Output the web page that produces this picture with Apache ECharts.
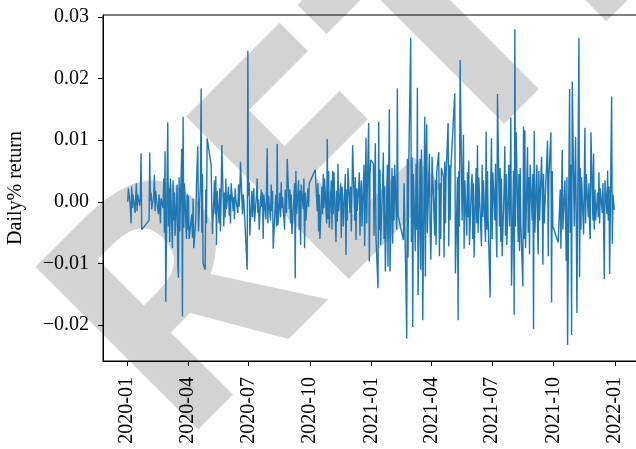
<!DOCTYPE html>
<html>
<head>
<meta charset="utf-8">
<script src="https://cdn.jsdelivr.net/npm/echarts@6/dist/echarts.min.js"></script>
<style>
  html, body { margin: 0; padding: 0; background: #fff; }
  #chart { width: 636px; height: 449px; }
</style>
</head>
<body>
<div id="chart"></div>
<script>
// daily returns, one list per month (trading days in order)
var returns2020 = [
  [0.0000, 0.0022, -0.0008, -0.0035, 0.0025, -0.0010, 0.0012, -0.0018, 0.0008, 0.0030, -0.0015, 0.0012, -0.0006, 0.0009, 0.0079, -0.0045],
  [-0.0030, 0.0080, 0.0002, 0.0015, -0.0012, 0.0010, 0.0044, -0.0015, 0.0018, 0.0005, -0.0020, 0.0012, -0.0008, -0.0035, 0.0006, -0.0010, 0.0038, -0.0050, 0.0082, -0.0162],
  [0.0129, -0.0040, 0.0022, -0.0065, 0.0038, -0.0075, 0.0035, -0.0030, 0.0015, -0.0055, 0.0028, -0.0100, -0.0123, 0.0040, -0.0048, 0.0086, -0.0186, 0.0138, -0.0042, 0.0030, -0.0060, 0.0012],
  [-0.0045, 0.0010, -0.0060, -0.0020, -0.0058, 0.0005, -0.0075, -0.0030, 0.0025, 0.0062, 0.0090, -0.0048, 0.0032, 0.0184, -0.0050, 0.0045, -0.0100, -0.0110, 0.0020, -0.0035, 0.0103],
  [0.0060, -0.0010, -0.0052, 0.0035, -0.0020, 0.0042, -0.0070, 0.0018, -0.0035, 0.0022, -0.0048, 0.0010, 0.0092, -0.0040, 0.0015, -0.0025, 0.0038, -0.0012],
  [0.0025, -0.0022, 0.0012, -0.0035, 0.0030, -0.0015, 0.0008, -0.0028, 0.0022, 0.0005, -0.0018, 0.0028, -0.0008, 0.0014, 0.0065, -0.0020, 0.0012, 0.0002, -0.0110, 0.0245],
  [0.0010, 0.0032, -0.0055, 0.0018, -0.0025, 0.0005, 0.0022, -0.0032, 0.0012, 0.0038, -0.0018, 0.0004, -0.0045, 0.0020, -0.0008, 0.0015, -0.0060, 0.0012, -0.0028, 0.0025, 0.0087, -0.0035, 0.0010],
  [-0.0030, 0.0028, -0.0015, 0.0018, -0.0076, -0.0005, 0.0012, -0.0040, 0.0094, -0.0038, 0.0015, -0.0025, 0.0032, -0.0010, 0.0008, -0.0045, 0.0020, -0.0005, -0.0018, 0.0070, -0.0012],
  [0.0020, -0.0035, 0.0012, -0.0052, 0.0008, 0.0030, -0.0124, 0.0050, -0.0020, 0.0035, -0.0045, 0.0018, -0.0070, 0.0028, -0.0012, 0.0038, -0.0075, 0.0015, -0.0030, 0.0022, -0.0008, 0.0030],
  [0.0052, -0.0015, 0.0030, -0.0048, 0.0012, -0.0060, 0.0025, -0.0020, 0.0045, -0.0010, 0.0038, -0.0035, 0.0102, -0.0028, 0.0050, -0.0042],
  [0.0035, -0.0045, 0.0050, -0.0020, 0.0048, -0.0065, 0.0018, -0.0032, 0.0062, -0.0015, 0.0030, -0.0058, 0.0025, 0.0008, -0.0040, 0.0045, -0.0086, 0.0020, -0.0030, 0.0055, -0.0018],
  [0.0025, -0.0048, 0.0015, 0.0092, -0.0030, 0.0040, -0.0062, 0.0022, -0.0015, 0.0048, -0.0055, 0.0012, 0.0035, -0.0040, 0.0060, -0.0072, 0.0020, 0.0104, -0.0035, 0.0128, -0.0097, 0.0045, 0.0068]
];
var returns2021 = [
  [0.0062, -0.0055, 0.0040, 0.0095, -0.0060, -0.0140, 0.0130, -0.0045, 0.0052, -0.0070, 0.0035, 0.0080, -0.0060, 0.0025, -0.0113, 0.0060, -0.0105, 0.0045, 0.0150, -0.0113],
  [0.0055, -0.0068, 0.0042, -0.0030, 0.0060, -0.0045, 0.0184, -0.0022, -0.0062, 0.0030, -0.0143, -0.0222, 0.0070, -0.0090, 0.0055],
  [0.0266, -0.0065, 0.0072, -0.0203, 0.0045, -0.0080, 0.0062, -0.0045, 0.0185, -0.0151, 0.0070, -0.0110, 0.0085, 0.0040, -0.0192, 0.0138, -0.0121, 0.0060, 0.0126, -0.0050, 0.0078, -0.0035, -0.0094],
  [-0.0040, 0.0073, -0.0055, 0.0035, -0.0070, 0.0048, 0.0081, -0.0088, 0.0030, -0.0060, 0.0055, 0.0040, -0.0090, 0.0065, -0.0035, 0.0045, 0.0128, -0.0072, 0.0060, -0.0030, 0.0050],
  [0.0176, -0.0116, 0.0040, -0.0192, 0.0050, -0.0040, 0.0230, -0.0030, 0.0040, 0.0109, -0.0076, 0.0035, -0.0055, 0.0048, -0.0025, 0.0067, -0.0070, 0.0030],
  [0.0045, -0.0060, 0.0030, -0.0090, 0.0055, -0.0035, 0.0092, -0.0050, 0.0040, -0.0072, 0.0060, -0.0025, 0.0035, -0.0065, 0.0114, -0.0045, 0.0050, -0.0030, -0.0155, 0.0040, 0.0103],
  [-0.0060, 0.0048, -0.0030, 0.0062, -0.0045, -0.0090, 0.0175, -0.0040, 0.0055, -0.0065, 0.0038, -0.0088, 0.0025, 0.0090, -0.0055, 0.0045, -0.0070, 0.0060, -0.0040, 0.0030, 0.0137, -0.0136],
  [0.0050, -0.0183, 0.0280, -0.0040, 0.0113, -0.0065, 0.0045, -0.0080, 0.0055, -0.0035, -0.0137, 0.0122, -0.0060, 0.0116, -0.0075, 0.0089, -0.0050, 0.0040, -0.0085, 0.0060, -0.0030, 0.0045],
  [-0.0206, 0.0115, -0.0050, 0.0060, -0.0040, -0.0085, 0.0050, -0.0030, 0.0073, 0.0020, -0.0102, 0.0045, -0.0035, 0.0099, -0.0088, 0.0040, 0.0113, -0.0163, 0.0050, -0.0040],
  [-0.0066, 0.0020, -0.0076, 0.0010, 0.0084, -0.0045, 0.0035, -0.0030, -0.0096, 0.0040, -0.0232, 0.0183, -0.0050, 0.0060, -0.0216, 0.0195],
  [-0.0040, 0.0035, 0.0105, -0.0030, -0.0180, 0.0266, -0.0122, 0.0055, -0.0045, 0.0040, -0.0053, 0.0030, 0.0120, -0.0035, 0.0045, -0.0025, 0.0030, -0.0040, -0.0060, 0.0113, -0.0030, 0.0078],
  [-0.0045, 0.0020, -0.0030, 0.0015, -0.0025, 0.0048, -0.0035, 0.0022, -0.0018, 0.0030, -0.0042, -0.0125, 0.0035, -0.0020, 0.0051, -0.0030, 0.0025, -0.0117, 0.0171, -0.0068, 0.0012, 0.0010, -0.0013]
];
// exchange holidays (weekdays with no trading)
var holidays = [
  '2020-01-01', '2020-01-24', '2020-01-27', '2020-01-28', '2020-01-29', '2020-01-30', '2020-01-31',
  '2020-04-06', '2020-05-01', '2020-05-04', '2020-05-05', '2020-06-25', '2020-06-26',
  '2020-10-01', '2020-10-02', '2020-10-05', '2020-10-06', '2020-10-07', '2020-10-08',
  '2021-01-01', '2021-02-11', '2021-02-12', '2021-02-15', '2021-02-16', '2021-02-17',
  '2021-04-05', '2021-05-03', '2021-05-04', '2021-05-05', '2021-06-14', '2021-09-20', '2021-09-21',
  '2021-10-01', '2021-10-04', '2021-10-05', '2021-10-06', '2021-10-07'
];
var xTickLabels = ['2020-01', '2020-04', '2020-07', '2020-10', '2021-01', '2021-04', '2021-07', '2021-10', '2022-01'];
var yTicks = [-0.02, -0.01, 0.00, 0.01, 0.02, 0.03];

var DAY = 86400000;
function pad(n){ return n < 10 ? '0' + n : '' + n; }
function toTime(s){
    var p = s.split('-');
    return Date.UTC(+p[0], +p[1] - 1, p[2] ? +p[2] : 1);
}

// trading days of one month
function tradingDays(year, month){
    var days = [];
    var t = Date.UTC(year, month, 1);
    while(new Date(t).getUTCMonth() == month){
        var d = new Date(t);
        var s = year + '-' + pad(month + 1) + '-' + pad(d.getUTCDate());
        var wd = d.getUTCDay();
        if(wd != 0 && wd != 6 && holidays.indexOf(s) < 0){
            days.push(t);
        }
        t += DAY;
    }
    return days;
}

var seriesData = [];
[[2020, returns2020], [2021, returns2021]].forEach(function(item){
    item[1].forEach(function(vals, m){
        var days = tradingDays(item[0], m);
        for(var i = 0; i < vals.length && i < days.length; i++){
            seriesData.push([days[i], vals[i]]);
        }
    });
});

var xTickValues = xTickLabels.map(toTime);

var serif = '"Liberation Serif", "DejaVu Serif", serif';
var chart = echarts.init(document.getElementById('chart'), null, {renderer: 'canvas'});

var option = {
    animation: false,
    backgroundColor: '#fff',
    grid: {
        left: 103,
        right: -3,
        top: 15,
        bottom: 88,
        show: true,
        borderColor: '#000',
        borderWidth: 1,
        containLabel: false,
        outerBoundsMode: 'none'
    },
    // grey watermark across the figure
    graphic: [{
        type: 'text',
        x: 114,
        y: 384,
        rotation: Math.PI / 4,
        z: -10,
        silent: true,
        style: {
            text: 'RETRACTED',
            fill: '#d3d3d3',
            font: 'bold 322px "Noto Sans", "Open Sans", sans-serif',
            textAlign: 'left',
            verticalAlign: 'middle'
        }
    }],
    xAxis: {
        type: 'value',
        min: toTime('2019-11-26'),
        max: toTime('2022-02-06'),
        splitLine: {show: false},
        axisLine: {show: true, onZero: false, lineStyle: {color: '#000', width: 1}},
        axisTick: {show: true, length: 5, lineStyle: {color: '#000'}, customValues: xTickValues},
        axisLabel: {
            customValues: xTickValues,
            rotate: 90,
            margin: 16,
            color: '#000',
            fontFamily: serif,
            fontSize: 20,
            formatter: function(v){
                var d = new Date(v);
                return d.getUTCFullYear() + '-' + pad(d.getUTCMonth() + 1);
            }
        }
    },
    yAxis: {
        type: 'value',
        min: -0.0258,
        max: 0.0303,
        name: 'Daily% return',
        nameLocation: 'middle',
        nameGap: 77,
        nameRotate: 90,
        nameTextStyle: {color: '#000', fontFamily: serif, fontSize: 20},
        splitLine: {show: false},
        axisLine: {show: true, lineStyle: {color: '#000', width: 1}},
        axisTick: {show: true, length: 5, lineStyle: {color: '#000'}, customValues: yTicks},
        axisLabel: {
            customValues: yTicks,
            margin: 14,
            color: '#000',
            fontFamily: serif,
            fontSize: 20,
            formatter: function(v){
                return v.toFixed(2).replace('-', '\u2212');
            }
        }
    },
    series: [{
        type: 'line',
        data: seriesData,
        showSymbol: false,
        symbol: 'none',
        lineStyle: {color: '#1f77b4', width: 1.4},
        itemStyle: {color: '#1f77b4'},
        z: 5
    }]
};
chart.setOption(option);
</script>
</body>
</html>
